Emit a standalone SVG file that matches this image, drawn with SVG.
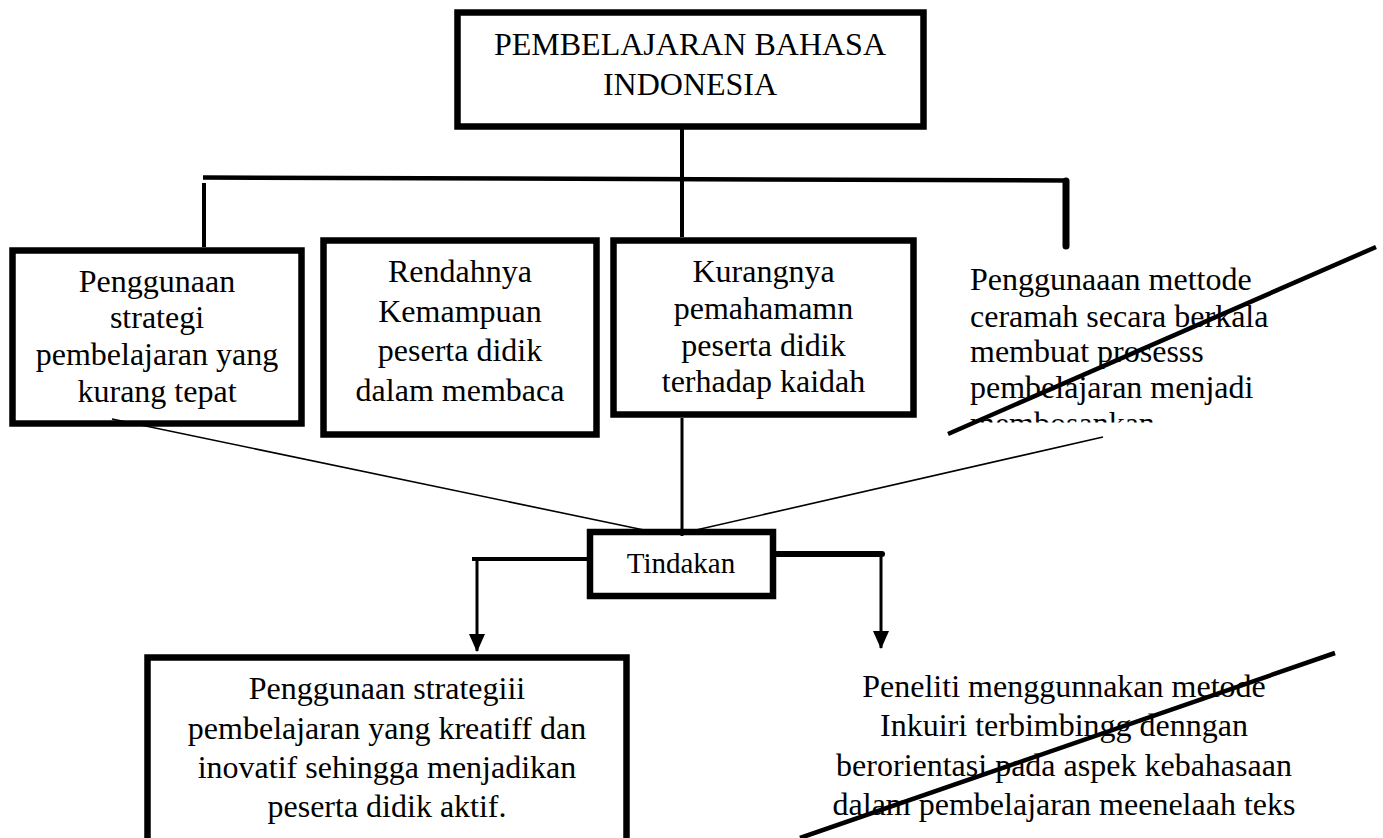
<svg xmlns="http://www.w3.org/2000/svg" width="1383" height="838" viewBox="0 0 1383 838">
<style>
.box{fill:#fff;stroke:#000;stroke-width:6.5}
.t{font-family:'Liberation Serif','Times New Roman',serif;font-size:32px;fill:#000}
.c{text-anchor:middle}
.ln{stroke:#000;fill:none}
</style>
<defs>
<marker id="arr" markerUnits="userSpaceOnUse" viewBox="0 0 18 16" markerWidth="18" markerHeight="16" refX="17" refY="8" orient="auto">
<path d="M0,0 L18,8 L0,16 z" fill="#000"/>
</marker>
<clipPath id="clipR"><rect x="960" y="250" width="420" height="172.5"/></clipPath>
</defs>
<rect width="1383" height="838" fill="#fff"/>
<g id="node-top">
<rect class="box" x="457.5" y="12.5" width="466" height="114"/>
<text class="t c" x="690" y="55">PEMBELAJARAN BAHASA</text>
<text class="t c" x="690" y="95">INDONESIA</text>
</g>
<g id="node-1">
<rect class="box" x="12.5" y="250.5" width="289" height="173"/>
<text class="t c" x="157" y="292">Penggunaan</text>
<text class="t c" x="157" y="328">strategi</text>
<text class="t c" x="157" y="365">pembelajaran yang</text>
<text class="t c" x="157" y="402">kurang tepat</text>
</g>
<g id="node-2">
<rect class="box" x="323.5" y="240.5" width="273" height="194"/>
<text class="t c" x="460" y="282">Rendahnya</text>
<text class="t c" x="460" y="322">Kemampuan</text>
<text class="t c" x="460" y="361">peserta didik</text>
<text class="t c" x="460" y="401">dalam membaca</text>
</g>
<g id="node-3">
<rect class="box" x="613.5" y="240.5" width="300" height="174"/>
<text class="t c" x="763.5" y="282">Kurangnya</text>
<text class="t c" x="763.5" y="319">pemahamamn</text>
<text class="t c" x="763.5" y="356">peserta didik</text>
<text class="t c" x="763.5" y="392">terhadap kaidah</text>
</g>
<g id="node-4">
<g clip-path="url(#clipR)">
<text class="t" x="970" y="290">Penggunaaan mettode</text>
<text class="t" x="970" y="327">ceramah secara berkala</text>
<text class="t" x="970" y="362">membuat prosesss</text>
<text class="t" x="970" y="398">pembelajaran menjadi</text>
<text class="t" x="970" y="434">membosankan</text>
</g>
<line class="ln" x1="948" y1="434" x2="1376" y2="247" stroke-width="4.5"/>
</g>
<g id="node-tindakan">
<rect class="box" x="590" y="532" width="183" height="64" stroke-width="6"/>
<text class="t c" x="681" y="573" style="font-size:29px">Tindakan</text>
</g>
<g id="node-5">
<rect class="box" x="147.5" y="657.5" width="479" height="200" stroke-width="7"/>
<text class="t c" x="387" y="699">Penggunaan strategiii</text>
<text class="t c" x="387" y="739">pembelajaran yang kreatiff dan</text>
<text class="t c" x="387" y="778">inovatif sehingga menjadikan</text>
<text class="t c" x="387" y="817">peserta didik aktif.</text>
</g>
<g id="node-6">
<text class="t c" x="1064" y="697">Peneliti menggunnakan metode</text>
<text class="t c" x="1064" y="736">Inkuiri terbimbingg denngan</text>
<text class="t c" x="1064" y="776">berorientasi pada aspek kebahasaan</text>
<text class="t c" x="1064" y="815">dalam pembelajaran meenelaah teks</text>
<line class="ln" x1="800" y1="838" x2="1335" y2="653" stroke-width="4.5"/>
</g>
<g id="connectors">
<line class="ln" x1="203" y1="177.5" x2="1067" y2="180.5" stroke-width="4.5"/>
<line class="ln" x1="204" y1="183" x2="204" y2="247" stroke-width="4"/>
<line class="ln" x1="1066" y1="181" x2="1066" y2="246" stroke-width="7" stroke-linecap="round"/>
<line class="ln" x1="682" y1="129" x2="682" y2="237" stroke-width="4"/>
<line class="ln" x1="682" y1="418" x2="682" y2="536" stroke-width="3"/>
<line class="ln" x1="112" y1="419" x2="644" y2="530" stroke-width="1.6"/>
<line class="ln" x1="1103" y1="437" x2="696" y2="530" stroke-width="1.6"/>
<line class="ln" x1="472" y1="559" x2="587" y2="559" stroke-width="4"/>
<line class="ln" x1="477" y1="557" x2="477" y2="651" stroke-width="3" marker-end="url(#arr)"/>
<line class="ln" x1="776" y1="554" x2="882" y2="554" stroke-width="6" stroke-linecap="round"/>
<line class="ln" x1="881" y1="552" x2="881" y2="648" stroke-width="3" marker-end="url(#arr)"/>
</g>
</svg>
